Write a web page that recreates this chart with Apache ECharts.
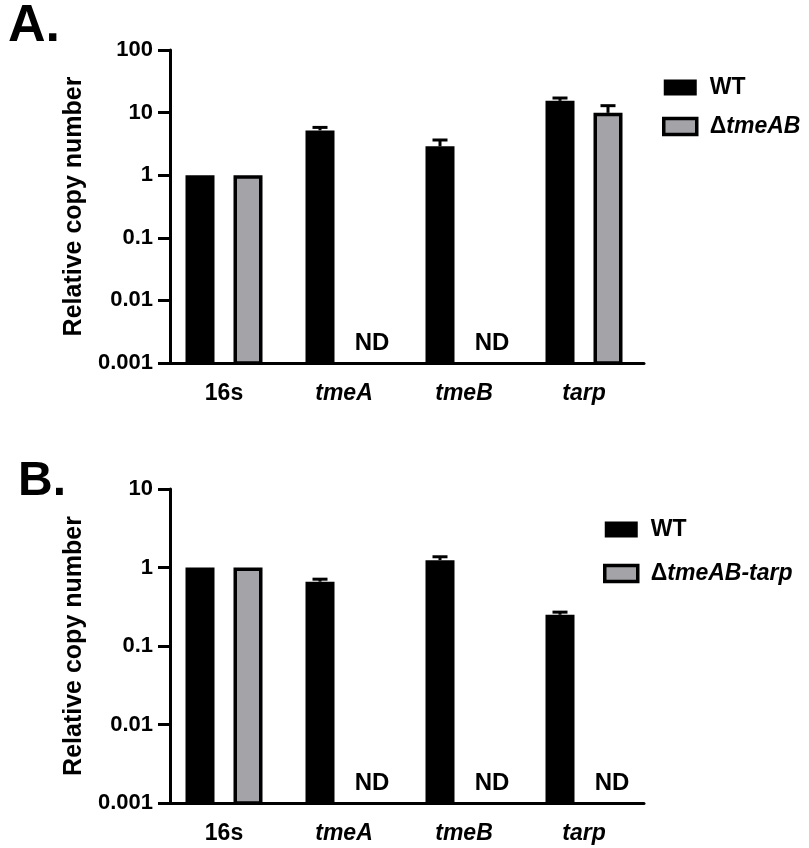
<!DOCTYPE html>
<html>
<head>
<meta charset="utf-8">
<script src="https://cdn.jsdelivr.net/npm/echarts@6/dist/echarts.min.js"></script>
<style>
  html, body { margin: 0; padding: 0; background: #fff; }
  #main { width: 809px; height: 848px; }
</style>
</head>
<body>
<div id="main"></div>
<script>
// categories (same for both panels)
const genes = ['16s', 'tmeA', 'tmeB', 'tarp'];

// panel A: mean and top of error bar (null = not detected / no error)
const wtA = [1, 5.2, 2.9, 15.4];
const wtAErr = [null, 5.8, 3.65, 17.1];
const mutA = [1, null, null, 9.9];
const mutAErr = [null, null, null, 12.9];
const ndA = [1, 2];

// panel B
const wtB = [1, 0.66, 1.24, 0.25];
const wtBErr = [null, 0.71, 1.37, 0.27];
const mutB = [1, null, null, null];
const ndB = [1, 2, 3];

const yMinA = 0.001, yMaxA = 100;
const yMinB = 0.001, yMaxB = 10;

const FONT = 'Liberation Sans, Arial, sans-serif';
const GRAY = '#a3a3a8';
const BAR_W = 29;
const SHIFT = 24;

function pairs (vals) {
  return vals.map((v, i) => [i, v]).filter(d => d[1] != null)
}
function errPairs (vals, tops) {
  return vals.map((v, i) => [i, v, tops[i]]).filter(d => d[2] != null)
}

function barRender (shift, yMin, fill, border) {
  return function (params, api) {
    const i = api.value(0)
    const top = api.coord([i, api.value(1)])
    const base = api.coord([i, yMin])
    const cx = top[0] + shift
    const bw = border ? border / 2 : 0
    return {
      type: 'rect',
      shape: { x: cx - BAR_W / 2 + bw, y: top[1] + bw, width: BAR_W - 2 * bw, height: base[1] - top[1] - bw },
      style: { fill: fill, stroke: border ? '#000' : null, lineWidth: border || 0 }
    }
  }
}

function errRender (shift) {
  return function (params, api) {
    const i = api.value(0)
    const top = api.coord([i, api.value(1)])
    const cap = api.coord([i, api.value(2)])
    const cx = top[0] + shift
    return {
      type: 'group',
      children: [
        { type: 'line', shape: { x1: cx, y1: top[1], x2: cx, y2: cap[1] }, style: { stroke: '#000', lineWidth: 3 } },
        { type: 'line', shape: { x1: cx - 7.5, y1: cap[1], x2: cx + 7.5, y2: cap[1] }, style: { stroke: '#000', lineWidth: 3 } }
      ]
    }
  }
}

function ndRender (yMin) {
  return function (params, api) {
    const p = api.coord([api.value(0), yMin])
    return {
      type: 'text',
      style: {
        x: p[0] + SHIFT + 4, y: p[1] - 8, text: 'ND',
        font: 'bold 24px ' + FONT, fill: '#000',
        align: 'center', verticalAlign: 'bottom'
      }
    }
  }
}

function xAxisFor (gi) {
  return {
    type: 'category', gridIndex: gi, data: genes,
    axisLine: { lineStyle: { color: '#000', width: 3 } },
    axisTick: { alignWithLabel: true, length: 10, lineStyle: { color: '#000', width: 3 } },
    axisLabel: {
      margin: 19,
      formatter: v => v === '16s' ? '{n|' + v + '}' : '{i|' + v + '}',
      rich: {
        n: { fontFamily: FONT, fontWeight: 'bold', fontSize: 23, color: '#000' },
        i: { fontFamily: FONT, fontWeight: 'bold', fontStyle: 'italic', fontSize: 23, color: '#000' }
      }
    }
  }
}

function yAxisFor (gi, min, max) {
  return {
    type: 'log', logBase: 10, gridIndex: gi, min: min, max: max, offset: -6,
    name: 'Relative copy number', nameLocation: 'middle', nameGap: 82,
    nameTextStyle: { fontFamily: FONT, fontWeight: 'bold', fontSize: 25, color: '#000' },
    axisLine: { show: true, lineStyle: { color: '#000', width: 3 } },
    axisTick: { show: true, length: 12, lineStyle: { color: '#000', width: 3 } },
    splitLine: { show: false },
    minorTick: { show: false },
    axisLabel: {
      margin: 17, fontFamily: FONT, fontWeight: 'bold', fontSize: 22, color: '#000',
      formatter: v => String(parseFloat(Number(v).toPrecision(6)))
    }
  }
}

function legendFor (top, left, gap, names) {
  return {
    orient: 'vertical', top: top, left: left, itemWidth: 33, itemHeight: 16, itemGap: gap,
    selectedMode: false,
    data: [
      { name: names[0], icon: 'rect', itemStyle: { color: '#000', borderWidth: 0 } },
      { name: names[1], icon: 'rect', itemStyle: { color: GRAY, borderColor: '#000', borderWidth: 3.5 } }
    ],
    formatter: name => name === 'WT' ? '{n|WT}' : '{n|Δ}{i|' + name.slice(1) + '}',
    textStyle: {
      padding: [0, 0, 0, 8],
      rich: {
        n: { fontFamily: FONT, fontWeight: 'bold', fontSize: 23, color: '#000' },
        i: { fontFamily: FONT, fontWeight: 'bold', fontStyle: 'italic', fontSize: 23, color: '#000' }
      }
    }
  }
}

const chart = echarts.init(document.getElementById('main'), null, { renderer: 'canvas' })

chart.setOption({
  animation: false,
  backgroundColor: '#fff',
  grid: [
    { left: 164, width: 480, top: 50, height: 313 },
    { left: 164, width: 480, top: 489, height: 314 }
  ],
  xAxis: [xAxisFor(0), xAxisFor(1)],
  yAxis: [yAxisFor(0, yMinA, yMaxA), yAxisFor(1, yMinB, yMaxB)],
  legend: [
    legendFor(71, 657, 16, ['WT', 'ΔtmeAB']),
    legendFor(513, 598, 21, ['WT', 'ΔtmeAB-tarp'])
  ],
  graphic: [
    { type: 'text', left: 8, top: 1, style: { text: 'A.', font: 'bold 52px ' + FONT, fill: '#000' } },
    { type: 'text', left: 18, top: 458, style: { text: 'B.', font: 'bold 48px ' + FONT, fill: '#000' } }
  ],
  series: [
    // panel A
    { name: 'WT', type: 'custom', xAxisIndex: 0, yAxisIndex: 0, itemStyle: { color: '#000' },
      renderItem: barRender(-SHIFT, yMinA, '#000', 0), data: pairs(wtA) },
    { name: 'ΔtmeAB', type: 'custom', xAxisIndex: 0, yAxisIndex: 0, itemStyle: { color: GRAY },
      renderItem: barRender(SHIFT, yMinA, GRAY, 3.5), data: pairs(mutA) },
    { type: 'custom', xAxisIndex: 0, yAxisIndex: 0, renderItem: errRender(-SHIFT), data: errPairs(wtA, wtAErr) },
    { type: 'custom', xAxisIndex: 0, yAxisIndex: 0, renderItem: errRender(SHIFT), data: errPairs(mutA, mutAErr) },
    { type: 'custom', xAxisIndex: 0, yAxisIndex: 0, renderItem: ndRender(yMinA), data: ndA.map(i => [i]) },
    // panel B
    { name: 'WT', type: 'custom', xAxisIndex: 1, yAxisIndex: 1, itemStyle: { color: '#000' },
      renderItem: barRender(-SHIFT, yMinB, '#000', 0), data: pairs(wtB) },
    { name: 'ΔtmeAB-tarp', type: 'custom', xAxisIndex: 1, yAxisIndex: 1, itemStyle: { color: GRAY },
      renderItem: barRender(SHIFT, yMinB, GRAY, 3.5), data: pairs(mutB) },
    { type: 'custom', xAxisIndex: 1, yAxisIndex: 1, renderItem: errRender(-SHIFT), data: errPairs(wtB, wtBErr) },
    { type: 'custom', xAxisIndex: 1, yAxisIndex: 1, renderItem: ndRender(yMinB), data: ndB.map(i => [i]) }
  ]
})
</script>
</body>
</html>
